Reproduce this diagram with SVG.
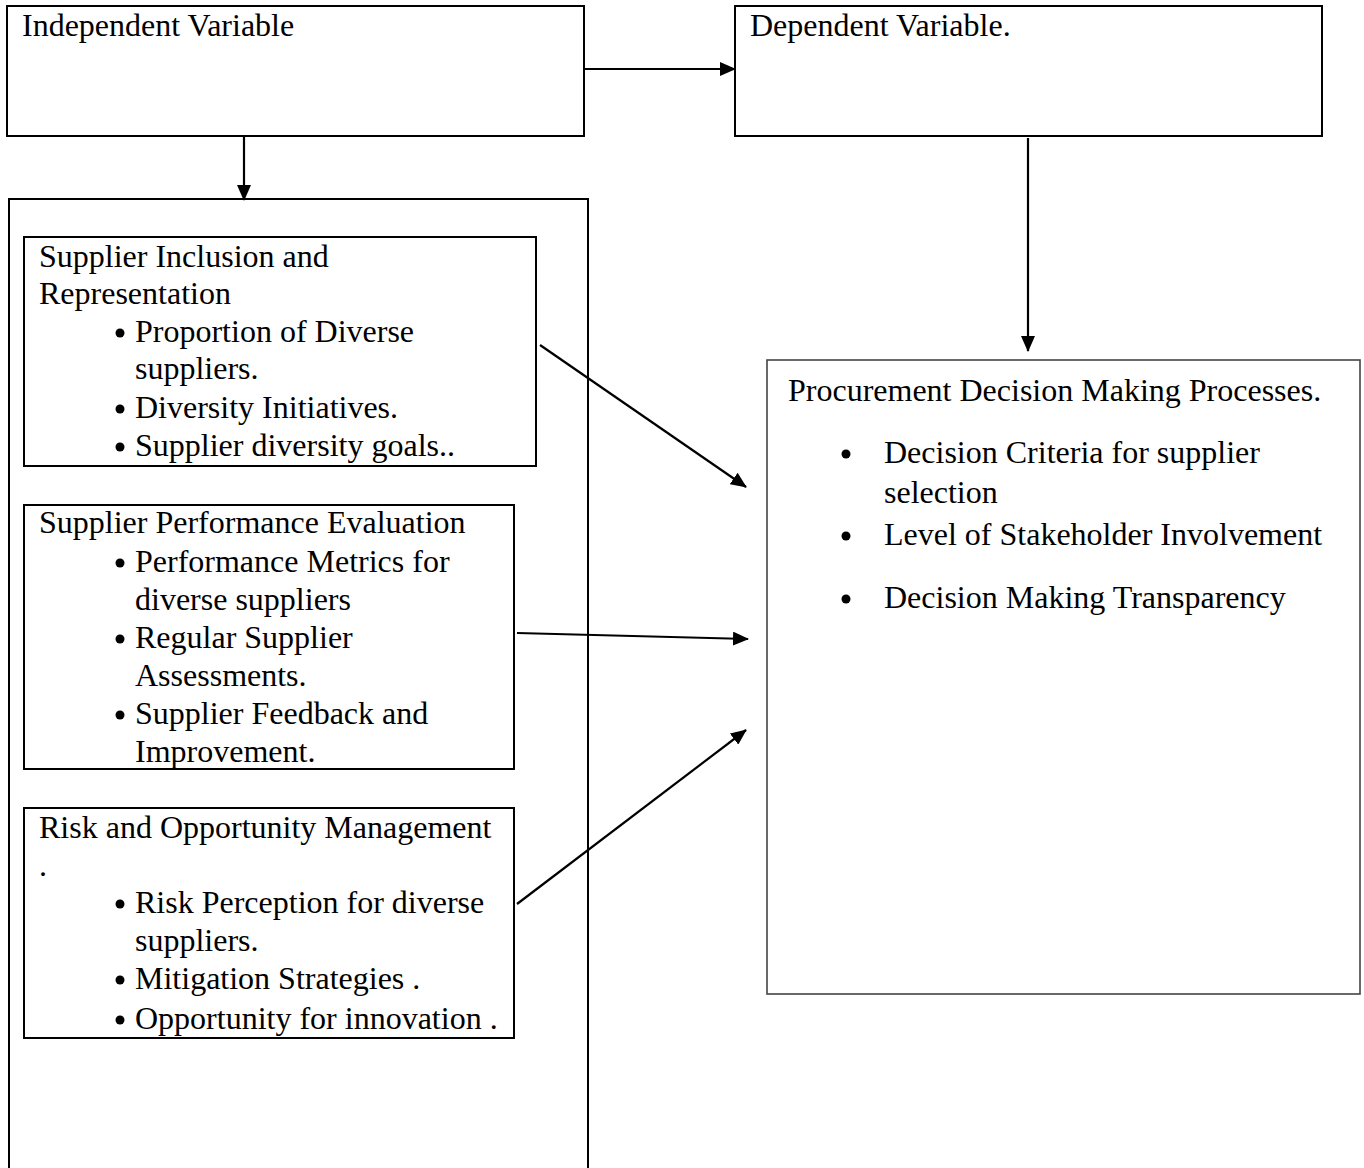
<svg xmlns="http://www.w3.org/2000/svg" width="1364" height="1168" viewBox="0 0 1364 1168">
<style>
.box{fill:#fff;stroke:#000;stroke-width:2}
.box2{fill:#fff;stroke:#444;stroke-width:1.6}
.t{font-family:"Liberation Serif","Times New Roman",serif;font-size:32px;fill:#000}
.b{fill:#000}
.c{stroke:#000;stroke-width:2.2;fill:none;marker-end:url(#ah)}
</style>
<defs>
<marker id="ah" viewBox="0 0 16 14" refX="15" refY="7" markerWidth="16" markerHeight="14" markerUnits="userSpaceOnUse" orient="auto">
<path d="M0,0 L16,7 L0,14 z" fill="#000"/>
</marker>
</defs>
<rect x="0" y="0" width="1364" height="1168" fill="#fff"/>
<g id="independent">
<rect class="box" x="7" y="6" width="577" height="130"/>
<text class="t" x="22" y="36">Independent Variable</text>
</g>
<g id="dependent">
<rect class="box" x="735" y="6" width="587" height="130"/>
<text class="t" x="750" y="36">Dependent Variable.</text>
</g>
<g id="container">
<rect class="box" x="9" y="199" width="579" height="1000"/>
</g>
<g id="inclusion">
<rect class="box" x="24" y="237" width="512" height="229"/>
<text class="t" x="39" y="267">Supplier Inclusion and</text>
<text class="t" x="39" y="304">Representation</text>
<circle class="b" cx="120" cy="333" r="4.5"/>
<text class="t" x="135" y="342">Proportion of Diverse</text>
<text class="t" x="135" y="379">suppliers.</text>
<circle class="b" cx="120" cy="409" r="4.5"/>
<text class="t" x="135" y="418">Diversity Initiatives.</text>
<circle class="b" cx="120" cy="447" r="4.5"/>
<text class="t" x="135" y="456">Supplier diversity goals..</text>
</g>
<g id="performance">
<rect class="box" x="24" y="505" width="490" height="264"/>
<text class="t" x="39" y="533">Supplier Performance Evaluation</text>
<circle class="b" cx="120" cy="563" r="4.5"/>
<text class="t" x="135" y="572">Performance Metrics for</text>
<text class="t" x="135" y="610">diverse suppliers</text>
<circle class="b" cx="120" cy="639" r="4.5"/>
<text class="t" x="135" y="648">Regular Supplier</text>
<text class="t" x="135" y="686">Assessments.</text>
<circle class="b" cx="120" cy="715" r="4.5"/>
<text class="t" x="135" y="724">Supplier Feedback and</text>
<text class="t" x="135" y="762">Improvement.</text>
</g>
<g id="risk">
<rect class="box" x="24" y="808" width="490" height="230"/>
<text class="t" x="39" y="838">Risk and Opportunity Management</text>
<text class="t" x="39" y="876">.</text>
<circle class="b" cx="120" cy="904" r="4.5"/>
<text class="t" x="135" y="913">Risk Perception for diverse</text>
<text class="t" x="135" y="951">suppliers.</text>
<circle class="b" cx="120" cy="980" r="4.5"/>
<text class="t" x="135" y="989">Mitigation Strategies .</text>
<circle class="b" cx="120" cy="1020" r="4.5"/>
<text class="t" x="135" y="1029">Opportunity for innovation .</text>
</g>
<g id="procurement">
<rect class="box2" x="767" y="360" width="593" height="634"/>
<text class="t" x="788" y="401">Procurement Decision Making Processes.</text>
<circle class="b" cx="846" cy="454" r="4.5"/>
<text class="t" x="884" y="463">Decision Criteria for supplier</text>
<text class="t" x="884" y="503">selection</text>
<circle class="b" cx="846" cy="536" r="4.5"/>
<text class="t" x="884" y="545">Level of Stakeholder Involvement</text>
<circle class="b" cx="846" cy="599" r="4.5"/>
<text class="t" x="884" y="608">Decision Making Transparency</text>
</g>
<g id="connectors">
<line class="c" x1="584" y1="69" x2="735" y2="69"/>
<line class="c" x1="244" y1="136" x2="244" y2="200"/>
<line class="c" x1="1028" y1="138" x2="1028" y2="351"/>
<line class="c" x1="540" y1="345" x2="746" y2="487"/>
<line class="c" x1="517" y1="633" x2="748" y2="639"/>
<line class="c" x1="517" y1="904" x2="746" y2="730"/>
</g>
</svg>
